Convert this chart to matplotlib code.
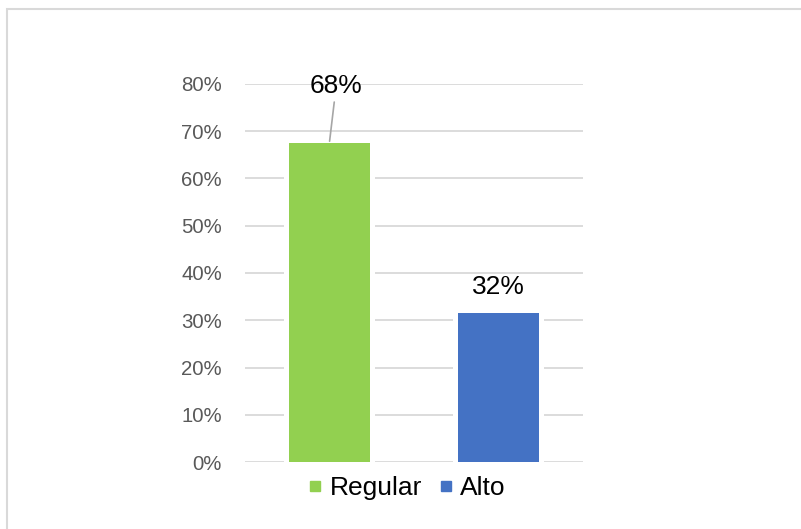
import matplotlib.pyplot as plt
from matplotlib.lines import Line2D
from matplotlib.patches import Rectangle

plt.rcParams['font.family'] = ['Liberation Sans', 'DejaVu Sans']

categories = ["Regular", "Alto"]
values = [67.6, 31.6]
colors = ["#92D050", "#4472C4"]
y_ticks = [0, 10, 20, 30, 40, 50, 60, 70, 80]

W, H = 801, 529
fig = plt.figure(figsize=(W / 100, H / 100), dpi=100)

# light chart border (top/left visible, rest cut off)
fig.patches.append(Rectangle((7 / W, -0.1), 1.2, 1 - 9 / H + 0.1, transform=fig.transFigure,
                             fill=False, edgecolor="#D9D9D9", linewidth=1.5))

ax = fig.add_axes([245 / W, 67 / H, (582.7 - 245) / W, (462 - 84) / H])
x = list(range(len(categories)))
bar_w = 0.48
gap = 5 / 168.5

ax.bar(x, values, width=bar_w + 2 * gap, color="white", zorder=2)
ax.bar(x, values, width=bar_w, color=colors, zorder=3)

ax.set_xlim(-0.5, 1.5)
ax.set_ylim(0, 80)
ax.set_yticks(y_ticks)
ax.set_yticklabels([f"{t}%" for t in y_ticks], fontsize=14.7, color="#595959")
ax.set_xticks([])
ax.tick_params(axis="y", length=0, pad=16.5)
ax.grid(axis="y", color="#D9D9D9", linewidth=1.3, zorder=1)
ax.set_axisbelow(True)
for s in ax.spines.values():
    s.set_visible(False)

# data labels
ax.annotate(f"{values[0]:.0f}%", xy=(x[0], values[0]), xytext=(x[0] + 0.04, 79.6),
            ha="center", va="center", fontsize=19, color="black",
            arrowprops=dict(arrowstyle="-", color="#A6A6A6", lw=1.2, shrinkA=1, shrinkB=1),
            zorder=5)
ax.text(x[1], values[1] + 5.5, f"{values[1]:.0f}%", ha="center", va="center",
        fontsize=19, color="black", zorder=5)

handles = [Line2D([], [], marker="s", linestyle="none", markersize=7, color=c) for c in colors]
fig.legend(handles, categories, loc="center", bbox_to_anchor=(407 / W, 1 - 488 / H),
           ncol=2, frameon=False, fontsize=19, handlelength=0.5, handletextpad=0.3,
           columnspacing=0.65)

fig.savefig("out.png", dpi=100)
